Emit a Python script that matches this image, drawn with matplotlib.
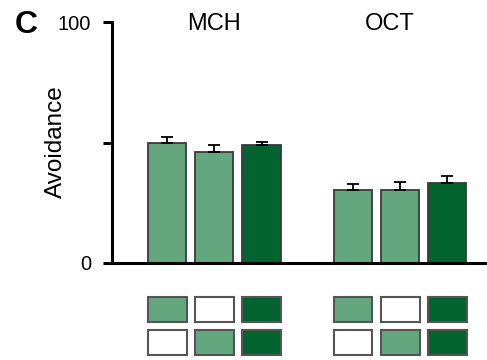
import numpy as np
import matplotlib.pyplot as plt
from matplotlib.patches import Rectangle

plt.rcParams['font.family'] = ['Liberation Sans', 'DejaVu Sans']

# data
groups = ["MCH", "OCT"]
group_label_x = [1, 4.72]
avoidance = [49.7, 46.2, 49.0, 30.3, 30.3, 33.1]
sem = [2.5, 2.6, 1.2, 2.6, 3.2, 3.0]
positions = [0, 1, 2, 3.94, 4.94, 5.94]

light = "#64a67e"
dark = "#03642f"
bar_colors = [light, light, dark, light, light, dark]
# key boxes below the bars
key_row1 = [light, "white", dark, light, "white", dark]
key_row2 = ["white", light, dark, "white", light, dark]

fig = plt.figure(figsize=(4.87, 3.6), dpi=100)
W, H = 487, 360

x_lo, x_hi = -1.17, 6.78
ax = fig.add_axes([112 / W, 1 - 263 / H, (487 - 112) / W, (263 - 22) / H])
ax.bar(positions, avoidance, width=0.81, color=bar_colors,
       edgecolor="#3a3a3a", linewidth=1.3, zorder=2)
ax.errorbar(positions, avoidance, yerr=[np.zeros(len(sem)), sem], fmt="none",
            ecolor="black", elinewidth=1.3, capsize=4.5, capthick=1.3, zorder=3)

ax.set_xlim(x_lo, x_hi)
ax.set_ylim(0, 100)
ax.set_yticks([0, 50, 100])
ax.set_yticklabels(["0", "", "100"])
ax.set_xticks([])
for s in ["top", "right"]:
    ax.spines[s].set_visible(False)
ax.spines["left"].set_linewidth(2.2)
ax.spines["bottom"].set_linewidth(2.2)
ax.tick_params(axis="y", length=6.5, width=2.2, labelsize=14.5, pad=8.5)

fig.text(56 / W, 1 - 142 / H, "Avoidance", rotation=90, fontsize=17.5,
         ha="center", va="center")

# group labels
for g, c in zip(groups, group_label_x):
    ax.text(c, 99, g, ha="center", va="center", fontsize=17)

fig.text(15 / W, 1 - 25 / H, "C", fontsize=23, fontweight="bold", ha="left", va="center")

# key panel
kax = fig.add_axes([112 / W, 1 - 358 / H, (487 - 112) / W, 66 / H])
kax.set_xlim(x_lo, x_hi)
kax.set_ylim(0, 2)
kax.axis("off")
for row, cols in [(1.1, key_row1), (0.1, key_row2)]:
    for p, c in zip(positions, cols):
        kax.add_patch(Rectangle((p - 0.41, row), 0.82, 0.74, facecolor=c,
                                edgecolor="#555555", linewidth=1.5))

fig.savefig("out.png", dpi=100)
